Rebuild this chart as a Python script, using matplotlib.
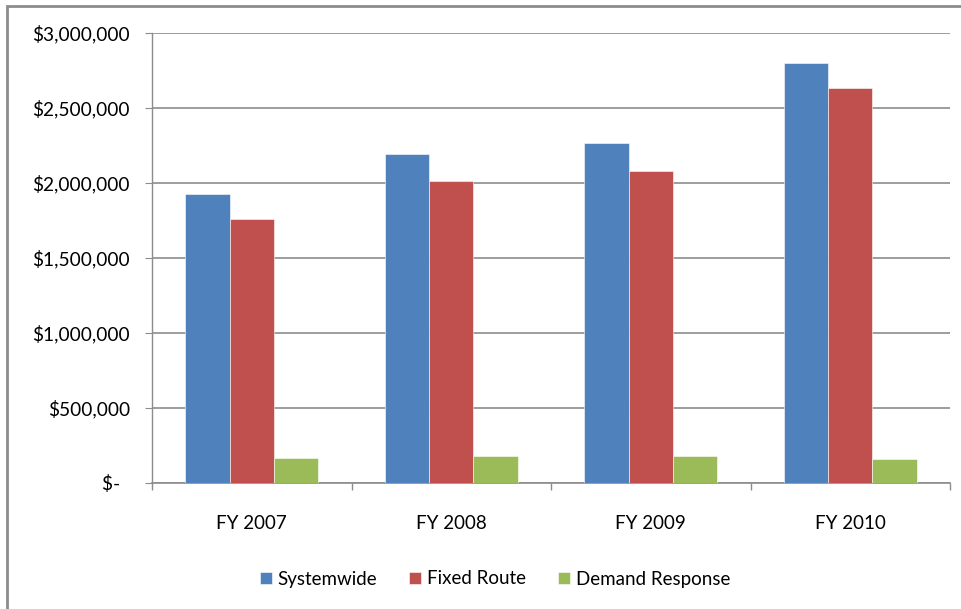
import matplotlib
matplotlib.use("Agg")
import matplotlib.pyplot as plt
import numpy as np
from matplotlib.patches import Rectangle
from matplotlib.ticker import FuncFormatter, FixedLocator

categories = ["FY 2007", "FY 2008", "FY 2009", "FY 2010"]
series_names = ["Systemwide", "Fixed Route", "Demand Response"]
systemwide = [1926000, 2193000, 2268000, 2797000]
fixed_route = [1762000, 2013000, 2083000, 2630000]
demand_response = [167000, 182000, 182000, 160000]
colors = ["#4F81BD", "#C0504D", "#9BBB59"]
yticks = [0, 500000, 1000000, 1500000, 2000000, 2500000, 3000000]

plt.rcParams['font.family'] = ['Lato', 'DejaVu Sans']

W, H = 962, 609
fig = plt.figure(figsize=(W/100, H/100), dpi=100)
ax = fig.add_axes([152/W, (H-483)/H, (950-152)/W, (483-33)/H])

x = np.arange(len(categories))
bw = 0.222
series = [systemwide, fixed_route, demand_response]
for i, (vals, name, c) in enumerate(zip(series, series_names, colors)):
    ax.bar(x + (i-1)*bw, vals, width=bw, color=c, label=name,
           edgecolor='white', linewidth=0.4, zorder=3)

ax.set_xlim(-0.5, len(categories)-0.5)
ax.set_ylim(0, 3000000)
ax.set_yticks(yticks)

def fmt(v, pos):
    if v == 0:
        return "$-  "
    return "${:,.0f}".format(v)
ax.yaxis.set_major_formatter(FuncFormatter(fmt))
ax.grid(axis='y', color='#8c8c8c', linewidth=1.2, zorder=0)
ax.set_axisbelow(True)

for s in ['top', 'right']:
    ax.spines[s].set_visible(False)
ax.spines['left'].set_color('#8c8c8c')
ax.spines['bottom'].set_color('#8c8c8c')
ax.spines['left'].set_linewidth(1.0)
ax.spines['bottom'].set_linewidth(1.2)

ax.tick_params(axis='y', length=5, color='#8c8c8c', pad=11, labelsize=13.8, labelcolor='black')
ax.set_xticks(x)
ax.set_xticklabels(categories)
ax.tick_params(axis='x', which='major', length=0, pad=23, labelsize=13.5)
ax.xaxis.set_minor_locator(FixedLocator(np.arange(-0.5, len(categories), 1.0)))
ax.tick_params(axis='x', which='minor', length=5, color='#8c8c8c', width=1.0)

leg = fig.legend(loc='center', bbox_to_anchor=(495/W, (H-579)/H), ncol=3, frameon=False,
                 fontsize=13.5, handlelength=0.65, handleheight=0.65, handletextpad=0.3,
                 columnspacing=1.7)

fig.patches.append(Rectangle((7/W, -0.1), 1.2, (H-6)/H + 0.1, transform=fig.transFigure,
                             fill=False, edgecolor='#8c8c8c', linewidth=2.0))

fig.savefig("out.png", dpi=100)
